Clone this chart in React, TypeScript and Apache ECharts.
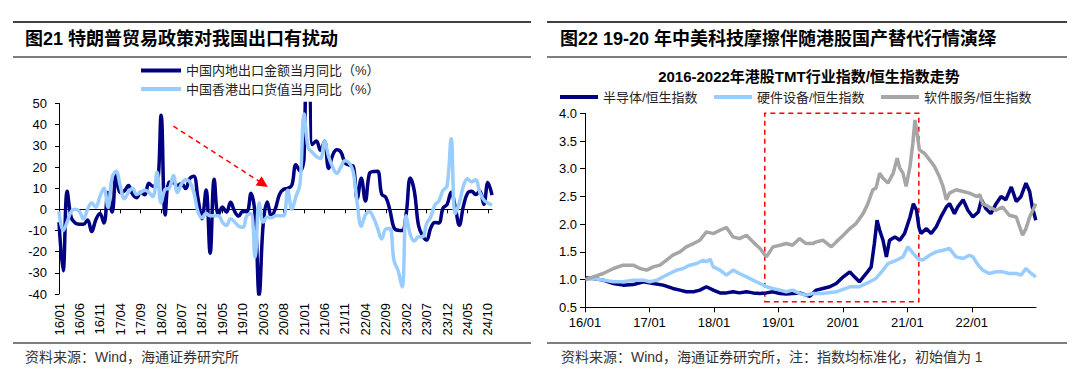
import React, { useEffect, useRef } from 'react';
import * as echarts from 'echarts';

const FONT = '"Liberation Sans", "Noto Sans CJK SC", sans-serif';
const DARK = '#000080';
const LIGHT = '#99CCFF';
const GRAY = '#A6A6A6';

// ---------- Left chart (monthly, 16/01 .. 24/11) ----------
const mainlandName = '中国内地出口金额当月同比（%）';
const hkName = '中国香港出口货值当月同比（%）';

const monthLabels: string[] = [];
for (let y = 16; y <= 24; y++) {
  for (let m = 1; m <= 12; m++) {
    if (y === 24 && m > 11) break;
    monthLabels.push(`${y}/${String(m).padStart(2, '0')}`);
  }
}

const mainlandExports: number[] = [
  -6, -29, 8.5, -4, -6.5, -7, -7, -5, -10.5, -5, -2, -6.5,
  7.9, -1.3, 16.4, 8.0, 8.7, 11.3, 7.2, 5.5, 8.1, 6.9, 12.3, 10.9,
  11.1, 44.5, -2.7, 12.9, 12.6, 11.3, 12.2, 9.8, 14.5, 15.6, 5.4, -4.4,
  9.1, -20.7, 14.2, -2.7, 1.1, -1.3, 3.3, -1.0, -3.2, -0.9, -1.1, 7.6,
  -2.5, -40.6, -6.6, 3.5, -3.3, 0.5, 7.2, 9.5, 9.9, 11.4, 21.1, 18.1,
  24.5, 154.9, 30.6, 32.3, 27.9, 32.2, 19.3, 25.6, 28.1, 27.1, 22.0, 20.9,
  20.5, 5, 14.7, 3.9, 16.9, 17.9, 18.0, 7.1, 5.7, -0.3, -8.7, -9.9,
  -10, -2, 14.8, 8.5, -7.5, -12.4, -14.5, -8.8, -6.2, -6.4, 0.5, 2.3,
  8.1, 1, -7.5, 1.5, 7.6, 8.6, 7.0, 8.7, 2.4, 12.7, 6.7,
];

const hongKongExports: number[] = [
  -1, -10, -6, -1, 0, -1, -4.5, 0, 3, 1, 6, 10,
  1, 15, 18, 11, 5, 8, 10, 7, 8, 9, 8, 6,
  17.5, 3, 9.5, 10, 16, 8, 12, 14, 13, 8, -1, -4,
  -2, -3, -3, -3, -6, -7.6, -4.4, -6, -8, -8.5, -3, -2,
  -22.7, 3, -6, -3.7, -4, -3, -3, -3, 9, 0, 6, 12,
  45, 29, 27, 25, 24, 32, 25, 20, 17, 20, 23, 22,
  18, 3, -8, -2.6, -1.1, -4, -9, -14, -9.3, -9.1, -24.1, -28.9,
  -36.7, -3, -12, -15, -13, -13, -6.6, -3.6, 2, 4, 9, 11,
  33.4, -2, 3, 11, 14.5, 13, 14, 8, 4.4, 3, 2,
];

// arrow endpoints (category index, value)
const arrowStart: [number, number] = [28.4, 39.3];
const arrowEnd: [number, number] = [49.5, 12];

// ---------- Right chart (index ratio, 2016-2022) ----------
const semiName = '半导体/恒生指数';
const hardName = '硬件设备/恒生指数';
const softName = '软件服务/恒生指数';

const semiconductor: [string, number][] = [
  ['2016-01-04', 1.03], ['2016-02-17', 1.02], ['2016-04-13', 0.99], ['2016-06-10', 0.93], ['2016-08-04', 0.9],
  ['2016-10-01', 0.91], ['2016-11-28', 0.96], ['2017-01-22', 0.93], ['2017-03-19', 0.9], ['2017-05-13', 0.84],
  ['2017-06-22', 0.81], ['2017-07-28', 0.78], ['2017-09-07', 0.78], ['2017-10-13', 0.81], ['2017-11-19', 0.87],
  ['2017-12-28', 0.81], ['2018-02-04', 0.76], ['2018-03-13', 0.76], ['2018-04-19', 0.78], ['2018-05-25', 0.76],
  ['2018-07-04', 0.78], ['2018-08-10', 0.76], ['2018-09-19', 0.75], ['2018-10-25', 0.76], ['2018-12-01', 0.78],
  ['2019-01-10', 0.75], ['2019-02-15', 0.74], ['2019-03-22', 0.75], ['2019-05-01', 0.76], ['2019-06-07', 0.72],
  ['2019-06-28', 0.7], ['2019-08-04', 0.81], ['2019-09-10', 0.84], ['2019-10-19', 0.87], ['2019-11-25', 0.93],
  ['2020-01-04', 1.05], ['2020-02-10', 1.14], ['2020-03-07', 1.05], ['2020-04-04', 0.96], ['2020-05-13', 1.11],
  ['2020-06-10', 1.23], ['2020-06-28', 1.65], ['2020-07-13', 2.07], ['2020-07-28', 1.89], ['2020-08-16', 1.71],
  ['2020-09-04', 1.41], ['2020-09-22', 1.71], ['2020-10-22', 1.77], ['2020-11-19', 1.71], ['2020-12-16', 1.83],
  ['2021-01-16', 2.13], ['2021-02-04', 2.37], ['2021-02-22', 2.25], ['2021-03-07', 1.95], ['2021-03-19', 1.83],
  ['2021-04-19', 1.92], ['2021-05-16', 1.83], ['2021-06-13', 1.95], ['2021-07-10', 2.13], ['2021-08-10', 2.31],
  ['2021-08-28', 2.37], ['2021-09-25', 2.19], ['2021-10-13', 2.31], ['2021-11-13', 2.44], ['2021-12-10', 2.25],
  ['2022-01-07', 2.13], ['2022-02-07', 2.22], ['2022-02-25', 2.44], ['2022-03-22', 2.28], ['2022-04-19', 2.19],
  ['2022-05-19', 2.37], ['2022-06-16', 2.5], ['2022-07-13', 2.44], ['2022-08-13', 2.67], ['2022-09-10', 2.41],
  ['2022-10-07', 2.5], ['2022-11-04', 2.74], ['2022-11-25', 2.59], ['2022-12-10', 2.31], ['2022-12-30', 2.07],
];

const hardware: [string, number][] = [
  ['2016-01-04', 1.0], ['2016-02-17', 1.02], ['2016-04-13', 0.99], ['2016-06-10', 0.96], ['2016-08-04', 0.96],
  ['2016-10-01', 0.99], ['2016-11-28', 0.99], ['2017-01-02', 0.96], ['2017-02-13', 0.99], ['2017-03-19', 1.05],
  ['2017-04-25', 1.11], ['2017-06-04', 1.17], ['2017-07-10', 1.2], ['2017-08-16', 1.26], ['2017-09-25', 1.29],
  ['2017-11-01', 1.35], ['2017-11-19', 1.32], ['2017-12-10', 1.37], ['2017-12-28', 1.23], ['2018-02-04', 1.17],
  ['2018-03-13', 1.08], ['2018-04-19', 1.17], ['2018-05-25', 1.11], ['2018-07-04', 1.05], ['2018-08-10', 0.99],
  ['2018-09-19', 0.93], ['2018-10-25', 0.87], ['2018-12-01', 0.84], ['2019-01-10', 0.81], ['2019-02-15', 0.78],
  ['2019-03-22', 0.81], ['2019-05-01', 0.75], ['2019-06-07', 0.72], ['2019-07-13', 0.75], ['2019-09-10', 0.75],
  ['2019-11-25', 0.78], ['2020-02-10', 0.87], ['2020-04-04', 0.87], ['2020-06-01', 0.96], ['2020-07-07', 1.02],
  ['2020-08-16', 1.17], ['2020-09-13', 1.29], ['2020-11-01', 1.35], ['2020-12-07', 1.41], ['2021-01-04', 1.59],
  ['2021-02-04', 1.47], ['2021-03-01', 1.38], ['2021-03-28', 1.35], ['2021-05-07', 1.44], ['2021-06-13', 1.5],
  ['2021-07-22', 1.53], ['2021-08-28', 1.56], ['2021-10-04', 1.41], ['2021-11-13', 1.38], ['2021-12-19', 1.44],
  ['2022-01-07', 1.41], ['2022-02-07', 1.26], ['2022-03-04', 1.17], ['2022-04-10', 1.11], ['2022-05-19', 1.14],
  ['2022-06-25', 1.14], ['2022-08-01', 1.11], ['2022-09-10', 1.11], ['2022-10-07', 1.08], ['2022-11-04', 1.2],
  ['2022-12-04', 1.11], ['2022-12-30', 1.05],
];

const software: [string, number][] = [
  ['2016-01-04', 1.0], ['2016-02-17', 1.05], ['2016-04-13', 1.11], ['2016-06-10', 1.2], ['2016-08-04', 1.26],
  ['2016-10-01', 1.26], ['2016-11-07', 1.2], ['2016-12-16', 1.17], ['2017-01-22', 1.23], ['2017-03-01', 1.26],
  ['2017-04-07', 1.35], ['2017-05-13', 1.44], ['2017-06-22', 1.5], ['2017-07-28', 1.59], ['2017-09-07', 1.65],
  ['2017-10-13', 1.71], ['2017-11-19', 1.86], ['2017-12-28', 1.83], ['2018-02-04', 1.89], ['2018-03-13', 1.94],
  ['2018-04-19', 1.77], ['2018-05-25', 1.74], ['2018-07-04', 1.8], ['2018-08-10', 1.68], ['2018-09-19', 1.56],
  ['2018-10-25', 1.41], ['2018-12-01', 1.59], ['2019-01-10', 1.62], ['2019-02-15', 1.65], ['2019-03-22', 1.62],
  ['2019-05-01', 1.74], ['2019-06-07', 1.65], ['2019-07-13', 1.65], ['2019-08-04', 1.68], ['2019-09-10', 1.71],
  ['2019-10-28', 1.59], ['2019-11-25', 1.68], ['2020-01-04', 1.8], ['2020-02-10', 1.92], ['2020-03-16', 2.01],
  ['2020-04-25', 2.19], ['2020-05-22', 2.37], ['2020-06-19', 2.62], ['2020-07-07', 2.65], ['2020-07-28', 2.92],
  ['2020-08-16', 2.83], ['2020-09-13', 2.74], ['2020-10-13', 2.92], ['2020-11-04', 3.19], ['2020-11-19', 3.01],
  ['2020-12-07', 2.92], ['2020-12-25', 2.68], ['2021-01-16', 3.04], ['2021-02-01', 3.46], ['2021-02-13', 3.88],
  ['2021-02-25', 3.64], ['2021-03-10', 3.34], ['2021-04-07', 3.28], ['2021-05-07', 3.16], ['2021-06-04', 3.04],
  ['2021-07-01', 2.86], ['2021-07-22', 2.68], ['2021-08-10', 2.44], ['2021-08-28', 2.56], ['2021-10-04', 2.62],
  ['2021-11-13', 2.59], ['2021-12-19', 2.56], ['2022-01-28', 2.5], ['2022-02-16', 2.53], ['2022-03-04', 2.37],
  ['2022-04-10', 2.31], ['2022-05-19', 2.25], ['2022-06-25', 2.31], ['2022-08-01', 2.16], ['2022-09-10', 2.13],
  ['2022-10-16', 1.8], ['2022-11-04', 1.92], ['2022-11-25', 2.13], ['2022-12-30', 2.37],
];

// highlighted period (dashed box)
const boxStart = '2018-10-16';
const boxEnd = '2021-03-07';
const boxLow = 0.6;
const boxHigh = 4.0;

const toTs = (s: string) => {
  const [y, m, d] = s.split('-').map(Number);
  return new Date(y, m - 1, d).getTime();
};
const tsData = (arr: [string, number][]) => arr.map(([d, v]) => [toTs(d), v]);

const fmtYM = (v: number) => {
  const d = new Date(v);
  return `${String(d.getFullYear()).slice(2)}/${String(d.getMonth() + 1).padStart(2, '0')}`;
};

const rule = (x1: number, x2: number, y: number, w: number) => ({
  type: 'line',
  shape: { x1, y1: y, x2, y2: y },
  style: { stroke: '#000', lineWidth: w },
  silent: true,
});

const legendItem = (name: string, left: number, top: number, width: number) => ({
  data: [name],
  left,
  top,
  padding: 0,
  icon: 'rect',
  itemWidth: width,
  itemHeight: 4,
  selectedMode: false,
  textStyle: { fontSize: 13, color: '#222', fontFamily: FONT },
});

export default function App() {
  const ref = useRef<HTMLDivElement>(null);

  useEffect(() => {
    if (!ref.current) return;
    const chart = echarts.init(ref.current, undefined, { renderer: 'svg' });

    const option: any = {
      animation: false,
      backgroundColor: '#ffffff',
      title: [
        {
          text: '图21 特朗普贸易政策对我国出口有扰动',
          left: 25, top: 30, padding: 0,
          textStyle: { fontSize: 18, fontWeight: 'bold', color: '#000', fontFamily: FONT },
        },
        {
          text: '图22 19-20 年中美科技摩擦伴随港股国产替代行情演绎',
          left: 560, top: 30, padding: 0,
          textStyle: { fontSize: 18, fontWeight: 'bold', color: '#000', fontFamily: FONT },
        },
        {
          text: '2016-2022年港股TMT行业指数/恒生指数走势',
          left: 809, top: 69, padding: 0, textAlign: 'center',
          textStyle: { fontSize: 15, fontWeight: 'bold', color: '#000', fontFamily: FONT },
        },
        {
          text: '资料来源：Wind，海通证券研究所',
          left: 25, top: 350, padding: 0,
          textStyle: { fontSize: 14, fontWeight: 'normal', color: '#333', fontFamily: FONT },
        },
        {
          text: '资料来源：Wind，海通证券研究所，注：指数均标准化，初始值为 1',
          left: 561, top: 350, padding: 0,
          textStyle: { fontSize: 14, fontWeight: 'normal', color: '#333', fontFamily: FONT },
        },
      ],
      legend: [
        legendItem(mainlandName, 141, 64, 40),
        legendItem(hkName, 141, 82.5, 40),
        legendItem(semiName, 560, 90.5, 38),
        legendItem(hardName, 714, 90.5, 38),
        legendItem(softName, 881, 90.5, 38),
      ],
      grid: [
        { left: 59, top: 103.5, width: 433, height: 190.5 },
        { left: 585, top: 113.3, width: 451, height: 194 },
      ],
      xAxis: [
        {
          gridIndex: 0, type: 'category', data: monthLabels, boundaryGap: false, position: 'bottom',
          axisLine: { show: false, onZero: false }, axisTick: { show: false },
          axisLabel: { rotate: 90, interval: 4, fontSize: 13, color: '#000', margin: 9, fontFamily: FONT },
          splitLine: { show: false },
        },
        {
          gridIndex: 0, type: 'category', data: monthLabels, boundaryGap: false, position: 'bottom',
          axisLine: { show: true, onZero: true, lineStyle: { color: '#000', width: 1 } },
          axisTick: { show: true, interval: 4, length: 4, lineStyle: { color: '#000' } },
          axisLabel: { show: false },
          splitLine: { show: false },
        },
        {
          gridIndex: 1, type: 'time', min: toTs('2016-01-01'), max: toTs('2022-12-31'),
          splitNumber: 7, minInterval: 365 * 24 * 3600 * 1000,
          axisLine: { show: true, onZero: false, lineStyle: { color: '#000', width: 1 } },
          axisTick: { show: true, length: 5, lineStyle: { color: '#000' } },
          axisLabel: {
            formatter: (v: number) => fmtYM(v), fontSize: 13, color: '#000', margin: 9,
            fontFamily: FONT, showMaxLabel: false, hideOverlap: false,
          },
          splitLine: { show: false },
        },
      ],
      yAxis: [
        {
          gridIndex: 0, type: 'value', min: -40, max: 50, interval: 10,
          axisLine: { show: true, lineStyle: { color: '#000', width: 1 } },
          axisTick: { show: true, length: 4, lineStyle: { color: '#000' } },
          axisLabel: { fontSize: 13, color: '#000', margin: 12, fontFamily: FONT },
          splitLine: { show: false },
        },
        {
          gridIndex: 1, type: 'value', min: 0.5, max: 4.0, interval: 0.5,
          axisLine: { show: true, lineStyle: { color: '#000', width: 1 } },
          axisTick: { show: true, length: 5, lineStyle: { color: '#000' } },
          axisLabel: { fontSize: 13, color: '#000', margin: 8, fontFamily: FONT, formatter: (v: number) => v.toFixed(1) },
          splitLine: { show: false },
        },
      ],
      series: [
        {
          name: mainlandName, type: 'line', xAxisIndex: 0, yAxisIndex: 0,
          data: mainlandExports, smooth: 0.4, showSymbol: false, symbol: 'none',
          lineStyle: { color: DARK, width: 3.5 }, itemStyle: { color: DARK },
          markLine: {
            silent: true, animation: false,
            symbol: ['none', 'triangle'], symbolSize: 11,
            label: { show: false },
            lineStyle: { color: '#ff0000', type: [5, 4], width: 1.5 },
            emphasis: { disabled: true },
            data: [[{ coord: arrowStart }, { coord: arrowEnd }]],
          },
        },
        {
          name: hkName, type: 'line', xAxisIndex: 0, yAxisIndex: 0,
          data: hongKongExports, smooth: 0.4, showSymbol: false, symbol: 'none',
          lineStyle: { color: LIGHT, width: 3.5 }, itemStyle: { color: LIGHT },
        },
        {
          name: semiName, type: 'line', xAxisIndex: 2, yAxisIndex: 1,
          data: tsData(semiconductor), showSymbol: false, symbol: 'none',
          lineStyle: { color: DARK, width: 3.5 }, itemStyle: { color: DARK },
          markArea: {
            silent: true,
            itemStyle: { color: 'rgba(0,0,0,0)', borderColor: '#ff0000', borderWidth: 1.5, borderType: [5, 4] },
            label: { show: false },
            data: [[{ coord: [toTs(boxStart), boxLow] }, { coord: [toTs(boxEnd), boxHigh] }]],
          },
        },
        {
          name: hardName, type: 'line', xAxisIndex: 2, yAxisIndex: 1,
          data: tsData(hardware), showSymbol: false, symbol: 'none',
          lineStyle: { color: LIGHT, width: 3.5 }, itemStyle: { color: LIGHT },
        },
        {
          name: softName, type: 'line', xAxisIndex: 2, yAxisIndex: 1,
          data: tsData(software), showSymbol: false, symbol: 'none',
          lineStyle: { color: GRAY, width: 3.5 }, itemStyle: { color: GRAY },
        },
      ],
      graphic: [
        rule(13, 531, 22, 1.5),
        rule(13, 531, 57, 1.2),
        rule(13, 531, 343, 1.2),
        rule(547, 1067, 22, 1.5),
        rule(547, 1067, 57, 1.2),
        rule(547, 1067, 343, 1.2),
      ],
    };

    chart.setOption(option);
    return () => chart.dispose();
  }, []);

  return (
    <div
      ref={ref}
      style={{ position: 'absolute', left: 0, top: 0, width: 1080, height: 380, background: '#fff' }}
    />
  );
}
